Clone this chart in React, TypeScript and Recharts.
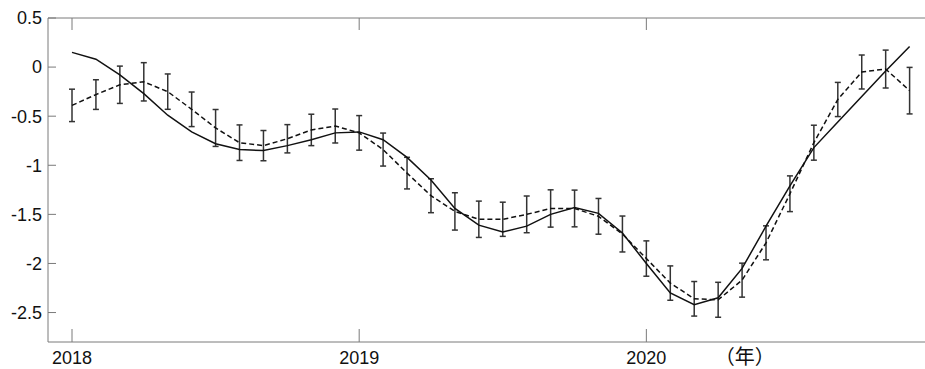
import { LineChart, Line, XAxis, YAxis, ErrorBar } from "recharts"

const months = [
    "2018-01", "2018-02", "2018-03", "2018-04", "2018-05", "2018-06",
    "2018-07", "2018-08", "2018-09", "2018-10", "2018-11", "2018-12",
    "2019-01", "2019-02", "2019-03", "2019-04", "2019-05", "2019-06",
    "2019-07", "2019-08", "2019-09", "2019-10", "2019-11", "2019-12",
    "2020-01", "2020-02", "2020-03", "2020-04", "2020-05", "2020-06",
    "2020-07", "2020-08", "2020-09", "2020-10", "2020-11", "2020-12",
]

// dashed series (means with error bars)
const observed = [
    -0.39, -0.28, -0.18, -0.15, -0.25, -0.43, -0.62, -0.77, -0.8, -0.73, -0.64, -0.6,
    -0.67, -0.84, -1.08, -1.31, -1.47, -1.55, -1.55, -1.5, -1.44, -1.44, -1.52, -1.7,
    -1.95, -2.2, -2.36, -2.37, -2.17, -1.79, -1.29, -0.77, -0.33, -0.05, -0.02, -0.24,
]
const errors = [
    0.165, 0.151, 0.19, 0.195, 0.18, 0.176, 0.188, 0.181, 0.154, 0.144, 0.16, 0.173,
    0.176, 0.168, 0.161, 0.173, 0.19, 0.185, 0.174, 0.187, 0.19, 0.187, 0.182, 0.183,
    0.18, 0.175, 0.176, 0.178, 0.173, 0.173, 0.182, 0.178, 0.174, 0.173, 0.193, 0.237,
]
// solid series
const trend = [
    0.15, 0.08, -0.08, -0.27, -0.49, -0.66, -0.78, -0.84, -0.85, -0.8, -0.74, -0.67,
    -0.66, -0.74, -0.92, -1.15, -1.44, -1.61, -1.68, -1.62, -1.5, -1.43, -1.49, -1.69,
    -2.0, -2.3, -2.42, -2.35, -2.05, -1.62, -1.21, -0.82, -0.56, -0.3, -0.04, 0.21,
]
const yTicks = [0.5, 0, -0.5, -1, -1.5, -2, -2.5]
const unitLabel = "（年）"

const data = months.map((m, i) => ({
    month: m,
    observed: observed[i],
    err: errors[i],
    trend: trend[i],
}))

const AXIS = "#7a7a7a"
const FONT = "'Liberation Sans', Arial, sans-serif"

const LeftTick = ({ x, y, payload }: any) => (
    <g>
        <line x1={x} x2={x + 8} y1={y} y2={y} stroke={AXIS} />
        <text x={x - 6} y={y} dy="0.355em" textAnchor="end" fontSize={18} fontFamily={FONT} fill="#111">
            {String(payload.value)}
        </text>
    </g>
)

const RightTick = ({ x, y }: any) => <line x1={x} x2={x - 8} y1={y} y2={y} stroke={AXIS} />

const TopTick = ({ x, y }: any) => <line x1={x} x2={x} y1={y} y2={y + 12} stroke={AXIS} />

const BottomTick = ({ x, y, payload }: any) => (
    <g>
        <line x1={x} x2={x} y1={y} y2={y - 13} stroke={AXIS} />
        <text x={x} y={y + 22} textAnchor="middle" fontSize={18} fontFamily={FONT} fill="#111">
            {String(payload.value).slice(0, 4)}
        </text>
    </g>
)

const UnitLabel = ({ viewBox }: any) => (
    <text
        x={viewBox.x + viewBox.width * 0.789}
        y={viewBox.y + 22}
        textAnchor="middle"
        fontSize={20}
        fontFamily="'Noto Sans CJK JP', sans-serif"
        fill="#111"
    >
        {unitLabel}
    </text>
)

export default function App() {
    return (
        <div style={{ position: "absolute", left: 0, top: 0, width: 925, height: 369, overflow: "hidden", background: "#fff" }}>
            <LineChart width={932} height={369} data={data} margin={{ top: 16, right: 0, bottom: 0, left: 0 }}>
                <XAxis
                    xAxisId="bottom"
                    dataKey="month"
                    height={27}
                    interval={11}
                    padding={{ left: 24, right: 21.4 }}
                    tickSize={0}
                    tickMargin={0}
                    tickLine={false}
                    tick={<BottomTick />}
                    axisLine={{ stroke: AXIS }}
                    label={<UnitLabel />}
                />
                <XAxis
                    xAxisId="top"
                    orientation="top"
                    dataKey="month"
                    height={2}
                    interval={11}
                    padding={{ left: 24, right: 21.4 }}
                    tickSize={0}
                    tickMargin={0}
                    tickLine={false}
                    tick={<TopTick />}
                    axisLine={{ stroke: AXIS }}
                />
                <YAxis
                    yAxisId="left"
                    width={48}
                    domain={[-2.8, 0.5]}
                    ticks={yTicks}
                    interval={0}
                    tickSize={0}
                    tickMargin={0}
                    tickLine={false}
                    tick={<LeftTick />}
                    axisLine={{ stroke: AXIS }}
                />
                <YAxis
                    yAxisId="right"
                    orientation="right"
                    width={1}
                    domain={[-2.8, 0.5]}
                    ticks={yTicks}
                    interval={0}
                    tickSize={0}
                    tickMargin={0}
                    tickLine={false}
                    tick={<RightTick />}
                    axisLine={{ stroke: AXIS }}
                />
                <Line
                    xAxisId="bottom"
                    yAxisId="left"
                    type="linear"
                    dataKey="observed"
                    stroke="#111"
                    strokeWidth={1.5}
                    strokeDasharray="5 3"
                    dot={false}
                    isAnimationActive={false}
                >
                    <ErrorBar dataKey="err" direction="y" width={3} stroke="#333" strokeWidth={1.5} isAnimationActive={false} />
                </Line>
                <Line
                    xAxisId="bottom"
                    yAxisId="left"
                    type="linear"
                    dataKey="trend"
                    stroke="#111"
                    strokeWidth={1.5}
                    dot={false}
                    isAnimationActive={false}
                />
            </LineChart>
        </div>
    )
}
